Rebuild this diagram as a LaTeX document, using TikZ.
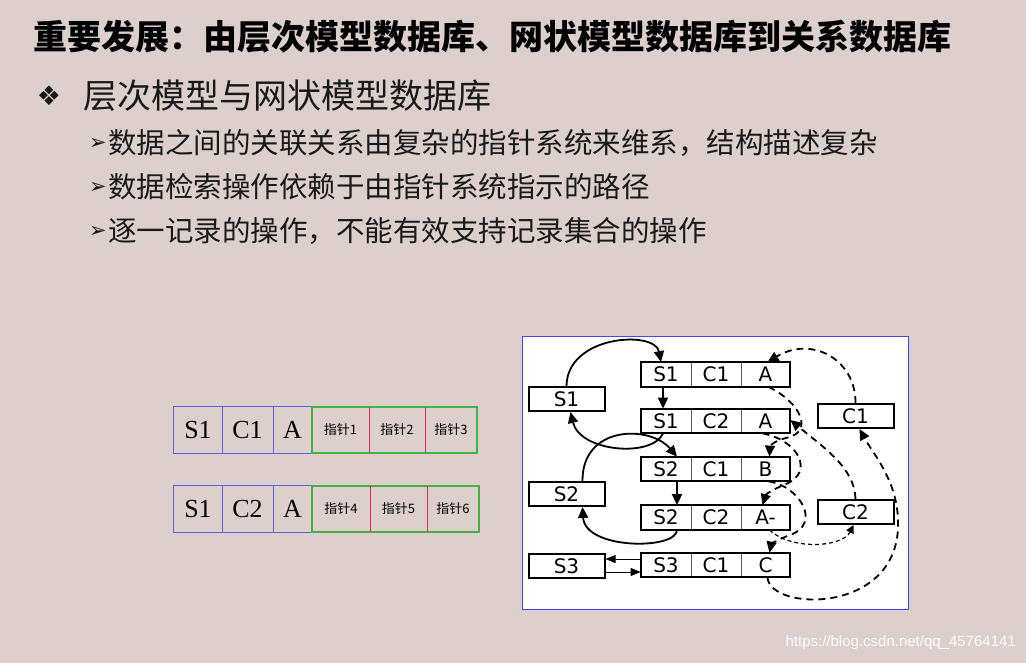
\documentclass[tikz,border=0pt]{standalone}
\usepackage{fontspec}
\usepackage{xcolor}
\usetikzlibrary{arrows.meta}
\setmainfont{Liberation Serif}
\newfontfamily\cjk{Noto Sans CJK SC}
\newfontfamily\dejavu{DejaVu Sans}
\newfontfamily\arialish{Liberation Sans}

\definecolor{slidebg}{RGB}{220,207,204}
\definecolor{slidetext}{RGB}{25,25,25}
\definecolor{tabblue}{RGB}{95,95,225}
\definecolor{tabgreen}{RGB}{70,175,70}
\definecolor{tabpink}{RGB}{230,40,120}
\definecolor{netframe}{RGB}{70,70,230}

\tikzset{
  fld/.style={inner sep=0pt, minimum height=46pt, font=\fontsize{26}{26}\selectfont},
  ptr/.style={inner sep=0pt, minimum height=46pt, font=\cjk\fontsize{13}{13}\selectfont},
  rec/.style={draw=black!65, line width=0.8pt, inner sep=0pt, minimum height=24pt,
    minimum width=50pt, font=\dejavu\fontsize{20}{20}\selectfont},
  own/.style={draw, line width=2pt, inner sep=0pt, minimum height=24pt,
    minimum width=76pt, fill=white, font=\dejavu\fontsize{20}{20}\selectfont},
  slink/.style={line width=1.8pt, -{Triangle[length=11pt,width=10pt]}},
  dlink/.style={slink, dash pattern=on 7pt off 5pt},
}

\begin{document}
\begin{tikzpicture}[x=1pt,y=-1pt]
  %% slide background
  \fill[slidebg] (0,0) rectangle (1026,663);
  \useasboundingbox (0,0) rectangle (1026,663);

  %% heading
  \node[anchor=base west, inner sep=0pt, font=\cjk\bfseries\fontsize{34}{34}\selectfont] (title) at (33,50)
    {重要发展：由层次模型数据库、网状模型数据库到关系数据库};
  \node[inner sep=0pt, text=slidetext, font=\dejavu\fontsize{27}{27}\selectfont] (dia) at (49,96) {❖};
  \node[anchor=base west, inner sep=0pt, text=slidetext, font=\cjk\fontsize{34}{34}\selectfont] (sub) at (83,109)
    {层次模型与网状模型数据库};

  %% sub points
  \foreach \txt [count=\i] in {数据之间的关联关系由复杂的指针系统来维系，结构描述复杂,
      数据检索操作依赖于由指针系统指示的路径,
      逐一记录的操作，不能有效支持记录集合的操作} {
    \node[inner sep=0pt, text=slidetext, font=\dejavu\fontsize{21}{21}\selectfont] (arr\i) at (98,100+44*\i) {➢};
    \node[anchor=base west, inner sep=0pt, text=slidetext, font=\cjk\fontsize{28.5}{28.5}\selectfont] (pt\i)
      at (108,109.5+44*\i) {\txt};
  }

  %% hierarchical records with pointer fields
  \node[fld, minimum width=48pt] (t1s) at (198,430) {S1};
  \node[fld, minimum width=51pt] (t1c) at (247.5,430) {C1};
  \node[fld, minimum width=39pt] (t1v) at (292.5,430) {A};
  \node[ptr, minimum width=57pt] (t1p) at (340.5,430) {指针1};
  \node[ptr, minimum width=56pt] (t1q) at (397,430) {指针2};
  \node[ptr, minimum width=52pt] (t1r) at (451,430) {指针3};

  \node[fld, minimum width=48pt] (t2s) at (198,509) {S1};
  \node[fld, minimum width=51pt] (t2c) at (247.5,509) {C2};
  \node[fld, minimum width=39pt] (t2v) at (292.5,509) {A};
  \node[ptr, minimum width=58pt] (t2p) at (341,509) {指针4};
  \node[ptr, minimum width=57pt] (t2q) at (398.5,509) {指针5};
  \node[ptr, minimum width=52pt] (t2r) at (453,509) {指针6};

  \foreach \r in {1,2} {
    \draw[tabblue, line width=1.2pt] (t\r s.north west) rectangle (t\r v.south east);
    \draw[tabblue, line width=1.2pt] (t\r s.north east) -- (t\r s.south east)
      (t\r c.north east) -- (t\r c.south east);
    \draw[tabgreen, line width=1.6pt] (t\r p.north west) rectangle (t\r r.south east);
    \draw[tabpink, line width=1.2pt] (t\r p.north east) -- (t\r p.south east)
      (t\r q.north east) -- (t\r q.south east);
  }

  %% network database
  \draw[netframe, fill=white, line width=1pt] (522,336) rectangle (908,609);

  \foreach \n/\y/\a/\b/\c in {1/374.5/S1/C1/A, 2/421/S1/C2/A, 3/469/S2/C1/B,
      4/517.5/S2/C2/A-, 5/565/S3/C1/C} {
    \node[rec] (r\n-s) at (666,\y) {\a};
    \node[rec] (r\n-c) at (716,\y) {\b};
    \node[rec, minimum width=49pt] (r\n-v) at (765.5,\y) {\c};
    \draw[line width=2pt] (r\n-s.north west) rectangle (r\n-v.south east);
  }

  \node[own] (s1) at (566.5,399) {S1};
  \node[own] (s2) at (566.5,494) {S2};
  \node[own] (s3) at (566.5,566) {S3};
  \node[own] (c1) at (855.5,416) {C1};
  \node[own] (c2) at (855.5,512) {C2};

  %% owner chains
  \draw[slink] (s1.north) .. controls (567,335) and (655,330) .. ([xshift=-5pt]r1-s.north);
  \draw[slink] ([xshift=-3pt]r1-s.south) -- ([xshift=-3pt]r2-s.north);
  \draw[slink] ([xshift=-3pt]r2-s.south) .. controls (652,458) and (580,452) .. ([xshift=4pt]s1.south);
  \draw[slink] ([xshift=16pt]s2.north) .. controls (582,425) and (650,425) .. ([xshift=11pt]r3-s.north);
  \draw[slink] ([xshift=11pt]r3-s.south) -- ([xshift=11pt]r4-s.north);
  \draw[slink] ([xshift=11pt]r4-s.south) .. controls (677,550) and (585,550) .. ([xshift=16pt]s2.south);
  \draw[line width=1pt, -{Triangle[length=10pt,width=8pt]}] ([yshift=6pt]r5-s.west) -- ([yshift=7pt]s3.east);
  \draw[line width=1pt, -{Triangle[length=10pt,width=8pt]}] ([yshift=-6pt]s3.east) -- ([yshift=-7pt]r5-s.west);

  %% course chains
  \draw[dlink] (c1.north) .. controls (856,360) and (812,335) .. ([xshift=2pt]r1-v.north);
  \draw[dlink] ([xshift=3pt]r1-v.south) .. controls (800,402) and (815,432) .. (786,438)
    .. controls (774,441) and (770,446) .. ([xshift=4pt]r3-v.north);
  \draw[dlink] ([xshift=-3pt]r2-v.south) .. controls (798,440) and (815,472) .. (786,484)
    .. controls (772,490) and (766,494) .. ([xshift=-3pt]r4-v.north);
  \draw[dlink] ([xshift=3pt]r3-v.south) .. controls (800,486) and (822,524) .. (790,535)
    .. controls (776,540) and (771,545) .. ([xshift=4pt]r5-v.north);
  \draw[dlink] (c2.north) .. controls (855,468) and (823,447) .. ([yshift=1pt]r2-v.east);
  \draw[line width=1.2pt, dash pattern=on 4pt off 3pt, -{Triangle[length=8pt,width=8pt]}]
    ([xshift=4pt]r4-v.south) .. controls (790,550) and (842,548) .. ([xshift=-2pt]c2.south);
  \draw[dlink] ([xshift=2pt]r5-v.south) .. controls (770,612) and (902,615) .. (898,520)
    .. controls (897,480) and (872,452) .. ([xshift=4pt]c1.south);

  %% watermark
  \node[anchor=east, inner sep=0pt, text=white!92!slidebg, font=\arialish\fontsize{15}{15}\selectfont] (mark)
    at (1016,643) {https://blog.csdn.net/qq\_45764141};
\end{tikzpicture}
\end{document}
